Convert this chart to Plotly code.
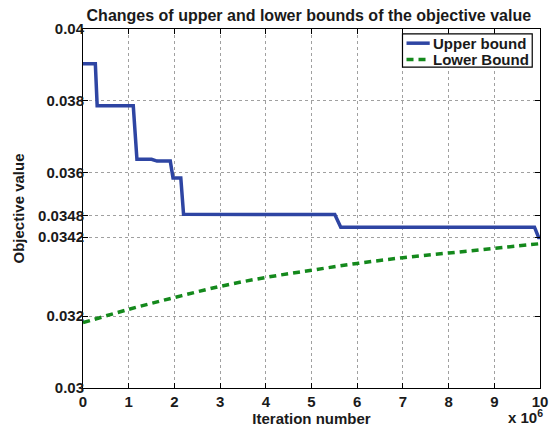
import plotly.graph_objects as go

# Upper bound (x in units of 1e6 iterations)
upper_x = [0, 0.27, 0.31, 1.10, 1.18, 1.50, 1.62, 1.91, 1.97, 2.14, 2.20, 5.51, 5.64, 9.88, 9.97, 10.0]
upper_y = [0.03903, 0.03903, 0.03786, 0.03786, 0.03637, 0.03637, 0.03632, 0.03632, 0.03585, 0.03585,
           0.03484, 0.03483, 0.03448, 0.03448, 0.03419, 0.03419]

# Lower bound
lower_x = [0, 1, 2, 3, 4, 5, 6, 7, 8, 9, 10]
lower_y = [0.03182, 0.03219, 0.03252, 0.03283, 0.03308, 0.03328, 0.03347, 0.03363, 0.03376, 0.03389, 0.03402]

x_ticks = [0, 1, 2, 3, 4, 5, 6, 7, 8, 9, 10]
y_ticks = [0.03, 0.032, 0.0342, 0.0348, 0.036, 0.038, 0.04]
y_tick_text = ["0.03", "0.032", "0.0342", "0.0348", "0.036", "0.038", "0.04"]

series_names = ["Upper bound", "Lower Bound"]
blue = "#2E45A3"
green = "#14891C"

font = "Liberation Sans, Arial, sans-serif"
txt = "#1a1a1a"

def f(size):
    return dict(family=font, size=size, color=txt, weight="bold")

fig = go.Figure()
fig.add_trace(go.Scatter(x=upper_x, y=upper_y, mode="lines", name=series_names[0],
                         line=dict(color=blue, width=3.5)))
fig.add_trace(go.Scatter(x=lower_x, y=lower_y, mode="lines", name=series_names[1], line_shape="spline",
                         line=dict(color=green, width=3.5, dash="7px,5px")))

axis_common = dict(showline=True, linecolor="black", linewidth=1, mirror="ticks",
                   ticks="inside", ticklen=5, tickcolor="black", automargin=False,
                   showgrid=True, gridcolor="#a0a0a0", griddash="dot", gridwidth=1,
                   zeroline=False, tickfont=f(15))

fig.update_layout(
    width=549, height=429,
    margin=dict(l=82.5, r=8.5, t=28.5, b=41),
    paper_bgcolor="white", plot_bgcolor="white",
    showlegend=False,
    title=dict(text="Changes of upper and lower bounds of the objective value",
               x=0.5625, xanchor="center", y=0.9634, yanchor="middle",
               font=f(16)),
    xaxis=dict(range=[0, 10], tickvals=x_ticks, ticktext=[str(v) for v in x_ticks],
               ticklabeloverflow="allow",
               title=dict(text="Iteration number", font=f(15), standoff=0),
               **axis_common),
    yaxis=dict(range=[0.03, 0.04], tickvals=y_ticks, ticktext=y_tick_text,
               ticklabelstandoff=-5,
               title=dict(text="Objective value", font=f(15), standoff=9),
               **axis_common),
)

# custom legend box (paper coordinates)
fig.add_shape(type="rect", xref="paper", yref="paper", x0=0.6991, x1=0.9830, y0=0.8937, y1=0.9866,
              line=dict(color="black", width=1.2), fillcolor="white", layer="above")
legend_rows = [(0.9605, blue, "solid"), (0.9152, green, "7px,5px")]
for (yy, col, dsh), name in zip(legend_rows, series_names):
    fig.add_shape(type="line", xref="paper", yref="paper", x0=0.7079, x1=0.7587, y0=yy, y1=yy,
                  line=dict(color=col, width=3.5, dash=dsh), layer="above")
    fig.add_annotation(text=name, xref="paper", yref="paper", x=0.7610, y=yy,
                       xanchor="left", yanchor="middle", showarrow=False, font=f(15))

fig.add_annotation(text="x 10<sup>6</sup>", xref="paper", yref="paper",
                   x=1.012, y=-0.112, xanchor="right", yanchor="bottom", showarrow=False,
                   font=f(15))

fig.write_html("out.html", config={"displayModeBar": False},
               post_script="document.body.style.margin='0';document.body.style.overflow='hidden';")
